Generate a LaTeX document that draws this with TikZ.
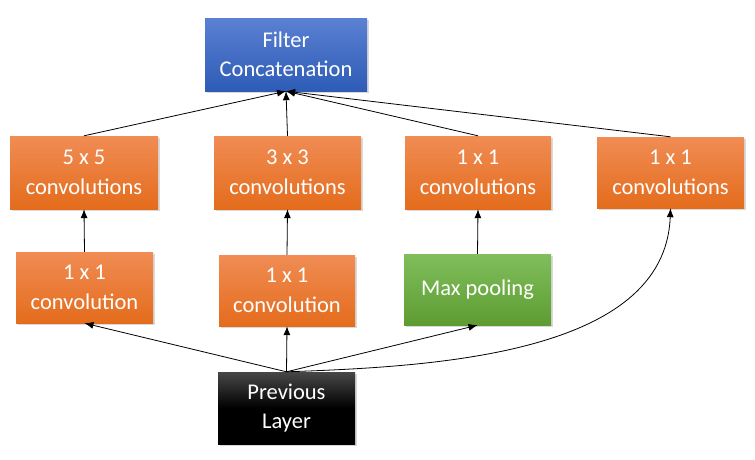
\documentclass[tikz,border=0pt]{standalone}
\usepackage{fontspec}
\setmainfont{Carlito}
\usepackage{tikz}
\usetikzlibrary{arrows.meta,shadows}
\definecolor{orangetop}{HTML}{F08C54}
\definecolor{orangebot}{HTML}{E46C1C}
\definecolor{bluetop}{HTML}{5A80D2}
\definecolor{bluebot}{HTML}{2E5CB6}
\definecolor{greentop}{HTML}{80BE5C}
\definecolor{greenbot}{HTML}{5E9C32}
\tikzset{block/.style = {shape = rectangle, text = white, align = center,
    font = \fontsize{22.5}{29.5}\selectfont, minimum width = 147pt, minimum height = 72pt,
    drop shadow = {opacity = 0.3, shadow xshift = 1.5pt, shadow yshift = -1.5pt}}}
\tikzset{conv/.style = {block, top color = orangetop, bottom color = orangebot}}
\tikzset{edge/.style = {-{Latex[length = 9pt, width = 7pt]}, line width = 0.8pt}}

\begin{document}
\begin{tikzpicture}[x = 1pt, y = -1pt]
			\useasboundingbox (0, 0) rectangle (755, 459);

			\node[block, top color = bluetop, bottom color = bluebot, minimum width = 162pt, minimum height = 73pt] (cat) at (286, 54.5) {Filter\\Concatenation};

			\node[conv, minimum width = 148pt, minimum height = 73pt] (c5) at (84, 172.5) {5 x 5\\convolutions};
			\node[conv, minimum height = 73pt] (c3) at (287.5, 172.5) {3 x 3\\convolutions};
			\node[conv, minimum width = 146pt, minimum height = 73pt] (c1) at (478, 172.5) {1 x 1\\convolutions};
			\node[conv, minimum height = 71pt] (c1b) at (670.5, 172.5) {1 x 1\\convolutions};

			\node[conv, minimum width = 137pt, minimum height = 71pt] (r5) at (84.5, 287.5) {1 x 1\\convolution};
			\node[conv, minimum width = 136pt, minimum height = 71pt] (r3) at (287, 290.5) {1 x 1\\convolution};
			\node[block, top color = greentop, bottom color = greenbot, minimum height = 71pt] (pool) at (477.5, 289.5) {Max pooling};

			\node[block, top color = black!72, bottom color = black, middle color = black, minimum width = 137pt, minimum height = 72pt] (prev) at (286.5, 408) {Previous\\Layer};

			\draw[edge] (c5.north) to (cat.south);
			\draw[edge] (c3.north) to (cat.south);
			\draw[edge] (c1.north) to (cat.south);
			\draw[edge] (c1b.north) to (cat.south);

			\draw[edge] (r5.north) to (c5.south);
			\draw[edge] (r3.north) to (c3.south);
			\draw[edge] (pool.north) to (c1.south);

			\draw[edge] (prev.north) to (r5.south);
			\draw[edge] (prev.north) to (r3.south);
			\draw[edge] (prev.north) to (pool.south);
			\draw[edge] (prev.north) to[out = 2, in = -92, looseness = 0.9] (c1b.south);
		\end{tikzpicture}
\end{document}
